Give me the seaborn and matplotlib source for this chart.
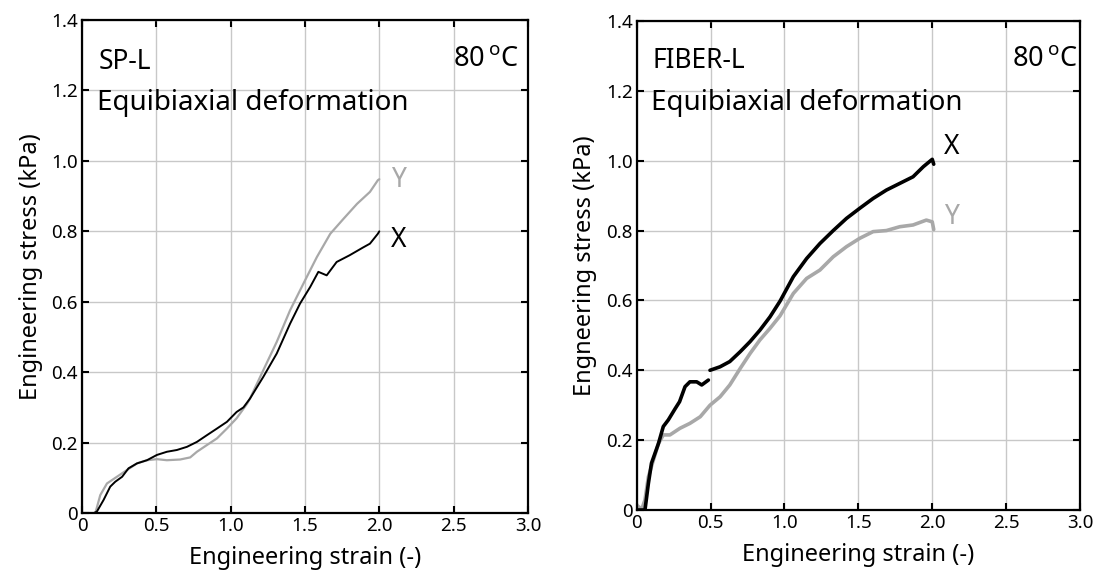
import numpy as np
import pandas as pd
import matplotlib
matplotlib.use("Agg")
import matplotlib.pyplot as plt
import seaborn as sns

# ---------------- data ----------------
sp_x_strain = [0.0, 0.08, 0.10, 0.145, 0.19, 0.224, 0.27, 0.313, 0.37, 0.437, 0.504, 0.571, 0.638,
               0.706, 0.773, 0.84, 0.908, 0.975, 1.04, 1.086, 1.13, 1.22, 1.31, 1.40, 1.467, 1.535,
               1.59, 1.646, 1.713, 1.80, 1.89, 1.937, 1.99, 2.00]
sp_x_stress = [0.0, 0.0, 0.004, 0.037, 0.075, 0.089, 0.103, 0.127, 0.141, 0.15, 0.165, 0.174, 0.179,
               0.188, 0.202, 0.221, 0.24, 0.259, 0.287, 0.30, 0.325, 0.387, 0.453, 0.538, 0.595, 0.642,
               0.685, 0.675, 0.713, 0.732, 0.754, 0.765, 0.793, 0.80]

sp_y_strain = [0.0, 0.09, 0.123, 0.168, 0.235, 0.302, 0.37, 0.437, 0.504, 0.571, 0.66, 0.728, 0.773,
               0.84, 0.908, 0.975, 1.04, 1.11, 1.13, 1.22, 1.31, 1.40, 1.49, 1.58, 1.67, 1.76, 1.85,
               1.937, 1.99, 2.00]
sp_y_stress = [0.0, 0.0, 0.051, 0.084, 0.103, 0.122, 0.141, 0.15, 0.153, 0.15, 0.152, 0.158, 0.174,
               0.193, 0.212, 0.24, 0.269, 0.31, 0.325, 0.406, 0.486, 0.576, 0.652, 0.727, 0.793, 0.836,
               0.878, 0.912, 0.945, 0.948]

fb_x1_strain = [0.0, 0.056, 0.079, 0.10, 0.147, 0.18, 0.214, 0.26, 0.29, 0.327, 0.36, 0.406, 0.44, 0.485]
fb_x1_stress = [0.0, 0.0, 0.076, 0.134, 0.19, 0.239, 0.258, 0.29, 0.31, 0.353, 0.367, 0.367, 0.358, 0.372]
fb_x2_strain = [0.496, 0.564, 0.63, 0.70, 0.767, 0.834, 0.902, 0.97, 1.06, 1.15, 1.24, 1.33, 1.42,
                1.51, 1.60, 1.69, 1.78, 1.87, 1.94, 2.00, 2.01]
fb_x2_stress = [0.40, 0.41, 0.425, 0.453, 0.482, 0.515, 0.553, 0.598, 0.668, 0.72, 0.763, 0.80, 0.835,
                0.864, 0.892, 0.916, 0.935, 0.954, 0.983, 1.004, 0.99]

fb_y_strain = [0.0, 0.034, 0.056, 0.079, 0.113, 0.147, 0.18, 0.225, 0.293, 0.36, 0.43, 0.496, 0.564,
               0.63, 0.70, 0.767, 0.834, 0.902, 0.97, 1.06, 1.15, 1.24, 1.33, 1.42, 1.51, 1.60,
               1.69, 1.78, 1.87, 1.96, 2.00, 2.01]
fb_y_stress = [0.014, 0.002, 0.029, 0.095, 0.143, 0.19, 0.215, 0.215, 0.234, 0.248, 0.267, 0.30, 0.324,
               0.358, 0.405, 0.448, 0.487, 0.52, 0.556, 0.62, 0.663, 0.687, 0.725, 0.754, 0.778, 0.797,
               0.80, 0.811, 0.816, 0.83, 0.825, 0.803]

x_ticks = [0, 0.5, 1.0, 1.5, 2.0, 2.5, 3.0]
x_ticklabels = ["0", "0.5", "1.0", "1.5", "2.0", "2.5", "3.0"]
y_ticks = [0, 0.2, 0.4, 0.6, 0.8, 1.0, 1.2, 1.4]
y_ticklabels = ["0", "0.2", "0.4", "0.6", "0.8", "1.0", "1.2", "1.4"]

BLACK = "#000000"
GRAY = "#a8a8a8"

sns.set_style("ticks")
plt.rcParams["font.family"] = ["Noto Sans", "DejaVu Sans"]
plt.rcParams["mathtext.fontset"] = "custom"
plt.rcParams["mathtext.rm"] = "Noto Sans"
plt.rcParams["text.color"] = "black"
plt.rcParams["axes.labelcolor"] = "black"

fig = plt.figure(figsize=(11.05, 5.83), dpi=100)
axL = fig.add_axes([0.0742, 0.120, 0.4036, 0.8456])
axR = fig.add_axes([0.5762, 0.1252, 0.4012, 0.8388])


def style(ax, ylab):
    ax.set_xlim(0, 3.0)
    ax.set_ylim(0, 1.4)
    ax.set_xticks(x_ticks)
    ax.set_xticklabels(x_ticklabels)
    ax.set_yticks(y_ticks)
    ax.set_yticklabels(y_ticklabels)
    ax.grid(True, color="#c8c8c8", linewidth=1.0)
    ax.set_axisbelow(True)
    ax.tick_params(direction="in", length=5, width=1.5, top=True, right=True,
                   labelsize=13.5, pad=3, colors="black")
    for s in ax.spines.values():
        s.set_linewidth(1.6)
        s.set_color("black")
        s.set_visible(True)
    ax.set_xlabel("Engineering strain (-)", fontsize=17, labelpad=8, color="black")
    ax.set_ylabel(ylab, fontsize=17, labelpad=6, color="black")


# left panel
sns.lineplot(x=sp_y_strain, y=sp_y_stress, ax=axL, color=GRAY, linewidth=1.6, sort=False)
sns.lineplot(x=sp_x_strain, y=sp_x_stress, ax=axL, color=BLACK, linewidth=1.4, sort=False)
style(axL, "Engineering stress (kPa)")
axL.text(0.11, 1.28, "SP-L", fontsize=19, va="center", ha="left")
axL.text(0.10, 1.165, "Equibiaxial deformation", fontsize=20, va="center", ha="left")
axL.text(2.94, 1.29, r"80$\,^{\mathrm{o}}$C", fontsize=19.5, va="center", ha="right")
axL.text(2.08, 0.945, "Y", fontsize=19, color=GRAY, va="center", ha="left")
axL.text(2.08, 0.775, "X", fontsize=19, color=BLACK, va="center", ha="left")

# right panel
sns.lineplot(x=fb_y_strain, y=fb_y_stress, ax=axR, color=GRAY, linewidth=2.6, sort=False)
sns.lineplot(x=fb_x1_strain, y=fb_x1_stress, ax=axR, color=BLACK, linewidth=2.6, sort=False)
sns.lineplot(x=fb_x2_strain, y=fb_x2_stress, ax=axR, color=BLACK, linewidth=2.6, sort=False)
style(axR, "Engneering stress (kPa)")
axR.text(0.11, 1.285, "FIBER-L", fontsize=19, va="center", ha="left")
axR.text(0.10, 1.165, "Equibiaxial deformation", fontsize=20, va="center", ha="left")
axR.text(2.99, 1.29, r"80$\,^{\mathrm{o}}$C", fontsize=19.5, va="center", ha="right")
axR.text(2.08, 1.04, "X", fontsize=19, color=BLACK, va="center", ha="left")
axR.text(2.08, 0.84, "Y", fontsize=19, color=GRAY, va="center", ha="left")

fig.savefig("out.png", dpi=100, facecolor="white")
